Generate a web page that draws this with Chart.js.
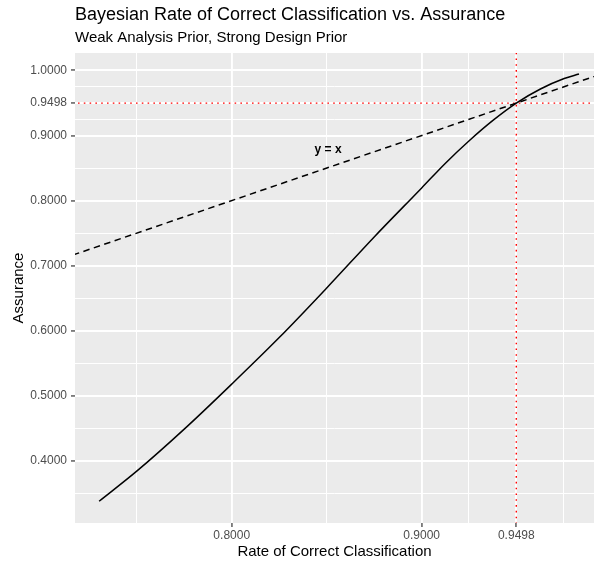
<!DOCTYPE html>
<html>
<head>
<meta charset="utf-8">
<script src="https://cdn.jsdelivr.net/npm/chart.js@4.4.1/dist/chart.umd.min.js"></script>
<style>
  body { margin: 0; background: #ffffff; }
  canvas { display: block; }
</style>
</head>
<body>
<canvas id="chart" width="594" height="563"></canvas>
<script>
// curve
const rateX = [0.7302, 0.750, 0.775, 0.800, 0.825, 0.850, 0.875, 0.900, 0.9125, 0.925, 0.9375, 0.9498, 0.9625, 0.975, 0.9828];
const assuranceY = [0.3380, 0.3842, 0.4488, 0.5180, 0.5895, 0.6657, 0.7442, 0.8195, 0.8575, 0.8920, 0.9232, 0.9498, 0.9715, 0.9875, 0.9945];

// y = x reference line
const refX = [0.70, 1.00];

// cutoff marked by red dotted lines
const cutoff = 0.9498;

// tick breaks
const xMajor = [0.80, 0.90, 0.9498];
const xMinor = [0.75, 0.85, 0.9249, 0.9749];
const yMajor = [0.40, 0.50, 0.60, 0.70, 0.80, 0.90, 0.9498, 1.00];
const yMinor = [0.35, 0.45, 0.55, 0.65, 0.75, 0.85, 0.9249, 0.9749];

const xRange = [0.7175, 0.9907];
const yRange = [0.3046, 1.0268];

const labelPos = { x: 0.8507, y: 0.878, text: "y = x" };

const FONT = "'Liberation Sans', Arial, Helvetica, sans-serif";

function isMajor(list, v) {
    return list.some(m => Math.abs(m - v) < 1e-6);
}

function makeTicks(major, minor) {
    return major.concat(minor).sort((a, b) => a - b).map(v => ({ value: v }));
}

// grey panel
const panelBg = {
    id: "panelBg",
    beforeDraw(chart) {
        const { ctx, chartArea: a } = chart;
        ctx.save();
        ctx.fillStyle = "#EBEBEB";
        ctx.fillRect(a.left, a.top, a.right - a.left, a.bottom - a.top);
        ctx.restore();
    }
};

// titles and the "y = x" label
const texts = {
    id: "texts",
    afterDraw(chart) {
        const { ctx, chartArea: a, scales } = chart;
        ctx.save();
        ctx.fillStyle = "#000000";
        ctx.textAlign = "left";
        ctx.textBaseline = "alphabetic";
        ctx.font = "18px " + FONT;
        ctx.fillText("Bayesian Rate of Correct Classification vs. Assurance", a.left, 20);
        ctx.font = "15px " + FONT;
        ctx.fillText("Weak Analysis Prior, Strong Design Prior", a.left, 42);

        ctx.font = "bold 12px " + FONT;
        ctx.textAlign = "center";
        ctx.textBaseline = "middle";
        ctx.fillText(labelPos.text, scales.x.getPixelForValue(labelPos.x), scales.y.getPixelForValue(labelPos.y));
        ctx.restore();
    }
};

function gridOpts(major) {
    return {
        drawTicks: true,
        tickLength: 4,
        color: "#FFFFFF",
        lineWidth: c => isMajor(major, c.tick.value) ? 1.9 : 1.0,
        tickColor: c => isMajor(major, c.tick.value) ? "#333333" : "rgba(0,0,0,0)",
        tickWidth: 1.2
    };
}

const ctx = document.getElementById("chart").getContext("2d");

new Chart(ctx, {
    type: "scatter",
    data: {
        datasets: [
            {
                data: rateX.map((x, i) => ({ x: x, y: assuranceY[i] })),
                showLine: true,
                borderColor: "#000000",
                borderWidth: 1.5,
                pointRadius: 0,
                cubicInterpolationMode: "monotone"
            },
            {
                data: refX.map(x => ({ x: x, y: x })),
                showLine: true,
                borderColor: "#000000",
                borderWidth: 1.5,
                borderDash: [6.5, 4.5],
                pointRadius: 0
            },
            {
                data: [{ x: cutoff, y: 0 }, { x: cutoff, y: 1.2 }],
                showLine: true,
                borderColor: "#FF0000",
                borderWidth: 1.4,
                borderDash: [1.6, 4.2],
                pointRadius: 0
            },
            {
                data: [{ x: 0.6, y: cutoff }, { x: 1.1, y: cutoff }],
                showLine: true,
                borderColor: "#FF0000",
                borderWidth: 1.4,
                borderDash: [1.6, 4.2],
                pointRadius: 0
            }
        ]
    },
    options: {
        responsive: false,
        animation: false,
        layout: { padding: { top: 53, right: 0, left: 0, bottom: 0 } },
        plugins: {
            legend: { display: false },
            tooltip: { enabled: false }
        },
        scales: {
            x: {
                type: "linear",
                min: xRange[0],
                max: xRange[1],
                afterBuildTicks: s => { s.ticks = makeTicks(xMajor, xMinor); },
                afterFit: s => { s.height = 40; },
                border: { display: false },
                grid: gridOpts(xMajor),
                ticks: {
                    autoSkip: false,
                    maxRotation: 0,
                    padding: 1,
                    color: "#4D4D4D",
                    font: { family: FONT, size: 12 },
                    callback: v => isMajor(xMajor, v) ? v.toFixed(4) : ""
                },
                title: {
                    display: true,
                    text: "Rate of Correct Classification",
                    color: "#000000",
                    font: { family: FONT, size: 15 },
                    padding: { top: 0, bottom: 2.5 }
                }
            },
            y: {
                type: "linear",
                min: yRange[0],
                max: yRange[1],
                afterBuildTicks: s => { s.ticks = makeTicks(yMajor, yMinor); },
                afterFit: s => { s.width = 75; },
                border: { display: false },
                grid: gridOpts(yMajor),
                ticks: {
                    autoSkip: false,
                    padding: 4,
                    color: "#4D4D4D",
                    font: { family: FONT, size: 12 },
                    callback: v => isMajor(yMajor, v) ? v.toFixed(4) : ""
                },
                title: {
                    display: true,
                    text: "Assurance",
                    color: "#000000",
                    font: { family: FONT, size: 15 },
                    padding: { top: 9.8, bottom: 0 }
                }
            }
        }
    },
    plugins: [panelBg, texts]
});
</script>
</body>
</html>
